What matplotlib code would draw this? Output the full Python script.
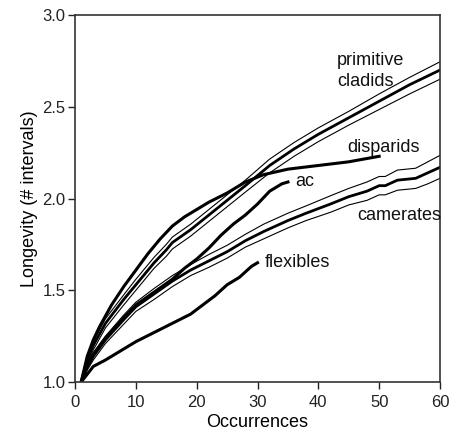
import numpy as np
import matplotlib
matplotlib.use("Agg")
import matplotlib.pyplot as plt

plt.rcParams['font.family'] = ['Liberation Sans', 'DejaVu Sans']

# primitive cladids: mean curve and its envelope
pc_x = [1, 2, 3, 5, 8, 10, 13, 15, 16, 19, 22, 25, 28, 32, 36, 40, 45, 50, 55, 60]
pc_y = [1.00, 1.12, 1.20, 1.32, 1.45, 1.53, 1.65, 1.72, 1.76, 1.83, 1.91, 1.99, 2.07, 2.18, 2.27, 2.35, 2.44, 2.53, 2.62, 2.70]
pc_hi = [1.00, 1.14, 1.22, 1.345, 1.475, 1.56, 1.68, 1.75, 1.79, 1.86, 1.94, 2.02, 2.10, 2.215, 2.305, 2.385, 2.475, 2.57, 2.66, 2.745]
pc_lo = [1.00, 1.10, 1.175, 1.295, 1.42, 1.50, 1.62, 1.685, 1.725, 1.795, 1.875, 1.955, 2.035, 2.14, 2.23, 2.31, 2.40, 2.485, 2.57, 2.65]

# camerates: mean curve and its envelope
cam_x = [1, 2, 3, 5, 8, 10, 13, 16, 19, 22, 25, 28, 31, 35, 38, 42, 45, 48, 50, 51, 53, 56, 58, 60]
cam_y = [1.00, 1.08, 1.14, 1.23, 1.34, 1.41, 1.48, 1.55, 1.61, 1.66, 1.71, 1.77, 1.82, 1.88, 1.92, 1.97, 2.01, 2.04, 2.07, 2.07, 2.10, 2.11, 2.14, 2.17]
cam_hi = [1.00, 1.095, 1.16, 1.25, 1.365, 1.435, 1.51, 1.58, 1.64, 1.695, 1.745, 1.805, 1.86, 1.92, 1.96, 2.015, 2.055, 2.09, 2.12, 2.12, 2.155, 2.165, 2.20, 2.235]
cam_lo = [1.00, 1.065, 1.12, 1.21, 1.315, 1.385, 1.45, 1.52, 1.58, 1.625, 1.675, 1.735, 1.78, 1.84, 1.88, 1.925, 1.965, 1.99, 2.02, 2.02, 2.045, 2.055, 2.08, 2.11]

# single curves
dis_x = [1, 2, 3, 4, 5, 6, 8, 10, 12, 14, 16, 18, 20, 22, 25, 28, 31, 35, 40, 45, 50]
dis_y = [1.00, 1.14, 1.23, 1.30, 1.36, 1.42, 1.52, 1.61, 1.70, 1.78, 1.85, 1.90, 1.94, 1.98, 2.03, 2.09, 2.13, 2.16, 2.18, 2.20, 2.23]

ac_x = [1, 2, 3, 5, 8, 10, 13, 16, 18, 20, 22, 24, 26, 28, 30, 32, 34, 35]
ac_y = [1.00, 1.09, 1.15, 1.24, 1.35, 1.42, 1.49, 1.56, 1.62, 1.67, 1.73, 1.80, 1.86, 1.91, 1.97, 2.04, 2.08, 2.09]

flex_x = [1, 3, 5, 8, 10, 13, 16, 19, 21, 23, 25, 26, 27, 28, 29, 30]
flex_y = [1.00, 1.085, 1.12, 1.18, 1.22, 1.27, 1.32, 1.37, 1.42, 1.47, 1.53, 1.55, 1.57, 1.60, 1.63, 1.65]

labels = ["primitive", "cladids", "disparids", "ac", "camerates", "flexibles"]
label_x = [43.1, 43.1, 44.7, 36.2, 46.4, 31.2]
label_y = [2.75, 2.64, 2.28, 2.09, 1.905, 1.654]

fig = plt.figure(figsize=(4.55, 4.30), dpi=100)
ax = fig.add_axes([0.165, 0.1116, 0.802, 0.8535])

for xs, lo, hi in [(pc_x, pc_lo, pc_hi), (cam_x, cam_lo, cam_hi)]:
    ax.plot(xs, hi, color='black', lw=0.8)
    ax.plot(xs, lo, color='black', lw=0.8)
ax.plot(pc_x, pc_y, color='black', lw=2.0)
ax.plot(cam_x, cam_y, color='black', lw=2.0)
ax.plot(dis_x, dis_y, color='black', lw=2.2)
ax.plot(ac_x, ac_y, color='black', lw=2.2)
ax.plot(flex_x, flex_y, color='black', lw=2.2)

for t, x, y in zip(labels, label_x, label_y):
    ax.text(x, y, t, fontsize=13, va='center', ha='left', color='#111111')

ax.set_xlim(0, 60)
ax.set_ylim(1.0, 3.0)
ax.set_xticks(np.arange(0, 61, 10))
ax.set_yticks([1.0, 1.5, 2.0, 2.5, 3.0])
ax.set_yticklabels(["1.0", "1.5", "2.0", "2.5", "3.0"])
ax.tick_params(direction='out', length=5, width=1, labelsize=12, pad=2, colors='#222222')
ax.tick_params(axis='x', pad=4)
for s in ax.spines.values():
    s.set_linewidth(1.2)
    s.set_color('#333333')

ax.set_xlabel("Occurrences", fontsize=13, labelpad=3)
ax.set_ylabel("Longevity (# intervals)", fontsize=13, labelpad=3)

fig.savefig("out.png", dpi=100)
